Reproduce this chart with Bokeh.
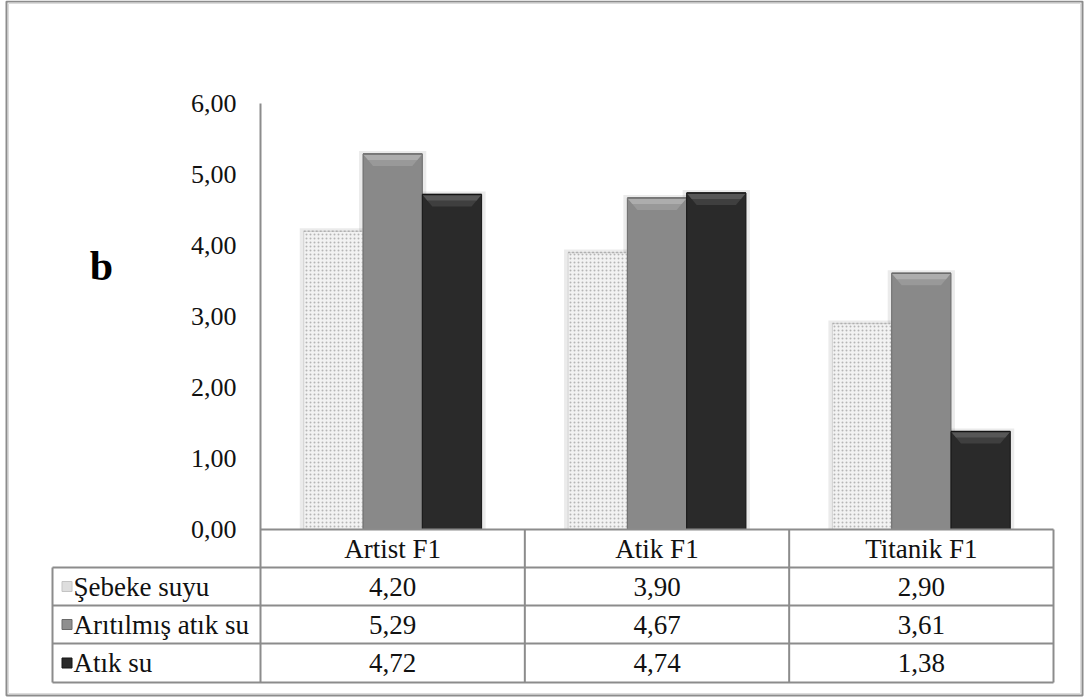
from bokeh.plotting import figure
from bokeh.models import LinearAxis, FixedTicker
from bokeh.core.properties import value
from bokeh.embed import file_html
from bokeh.resources import INLINE

# ---------------- data ----------------
categories = ["Artist F1", "Atik F1", "Titanik F1"]
series_names = ["Şebeke suyu", "Arıtılmış atık su", "Atık su"]
sebeke_suyu = [4.20, 3.90, 2.90]
aritilmis_atik_su = [5.29, 4.67, 3.61]
atik_su = [4.72, 4.74, 1.38]
y_ticks = [0, 1, 2, 3, 4, 5, 6]
panel_label = "b"

series = [sebeke_suyu, aritilmis_atik_su, atik_su]

# ---------------- layout (page pixels) ----------------
W, H = 1084, 697
PAGE = 0
AX_X = 260          # y axis position
PLOT_R = 1053       # right edge of plot / table
Y0_PX = 529         # value 0
YTOP_PX = 103       # value 6
TABLE_L = 52
ROWS = [529, 567, 605, 643, 682]
FRAME = (6, 1082, 1, 695)
FONT = "'Liberation Serif', 'Times New Roman', serif"
GRID = "#8c8c8c"

n = len(categories)
SX = (PLOT_R - AX_X) / n
SY = (Y0_PX - YTOP_PX) / float(y_ticks[-1])


def X(px):
    return -0.5 + (px - AX_X) / SX


def Y(py):
    return (Y0_PX - py) / SY


p = figure(width=W, height=H,
           x_range=(X(PAGE), X(PAGE + W)), y_range=(Y(PAGE + H), Y(PAGE)),
           output_backend="svg", toolbar_location=None,
           x_axis_location=None, y_axis_location=None, min_border=0)
for g in p.grid:
    g.visible = False
p.outline_line_color = None
p.background_fill_color = "white"
p.border_fill_color = "white"

# outer chart border
p.quad(left=[X(FRAME[0])], right=[X(FRAME[1])], top=[Y(FRAME[2])], bottom=[Y(FRAME[3])],
       fill_color=None, line_color=GRID, line_width=2)
p.quad(left=[X(FRAME[0] + 2)], right=[X(FRAME[1] - 2)], top=[Y(FRAME[2] + 2)], bottom=[Y(FRAME[3] - 2)],
       fill_color=None, line_color="#dcdcdc", line_width=1)

# ---------------- bars ----------------
bw = 59.3 / SX
offsets = [-bw, 0.0, bw]
cx = list(range(n))

# soft shadows
for k, vals in enumerate(series):
    xs = [i + offsets[k] for i in cx]
    p.vbar(x=xs, top=[v + 3 / SY for v in vals], bottom=0, width=bw + 8 / SX,
           fill_color="black", fill_alpha=0.08, line_color=None)

styles = [
    dict(fill_color="#f2f2f2", hatch_pattern="dot", hatch_color="#b5b5b5",
         hatch_scale=4, hatch_weight=1, line_color="#d2d2d2"),
    dict(fill_color="#898989", line_color="#6a6a6a"),
    dict(fill_color="#2a2a2a", line_color="#141414"),
]
bevel = [None, ("#999999", "#adadad"), ("#3f3f3f", "#575757")]

for k, vals in enumerate(series):
    xs = [i + offsets[k] for i in cx]
    p.vbar(x=xs, top=vals, bottom=0, width=bw, line_width=1, **styles[k])
    if bevel[k] is not None:
        for layer, (hp, col) in enumerate([(12, bevel[k][0]), (6, bevel[k][1])]):
            d = 10 / SX
            h = hp / SY
            pxs, pys = [], []
            for x, v in zip(xs, vals):
                x0, x1 = x - bw / 2, x + bw / 2
                dd = d * hp / 12
                pxs.append([x0, x1, x1 - dd, x0 + dd])
                pys.append([v, v, v - h, v - h])
            p.patches(pxs, pys, fill_color=col, line_color=None)
        p.segment(x0=[x - bw / 2 for x in xs], x1=[x + bw / 2 for x in xs],
                  y0=vals, y1=vals, line_color=styles[k]["line_color"], line_width=1.5)
    else:
        p.segment(x0=[x - bw / 2 for x in xs], x1=[x + bw / 2 for x in xs],
                  y0=vals, y1=vals, line_color="#b0b0b0", line_width=1.5, line_dash="2 2")


# ---------------- axes ----------------
def style_axis(ax, size):
    ax.axis_line_color = GRID
    ax.axis_line_width = 2
    ax.major_tick_line_color = None
    ax.minor_tick_line_color = None
    ax.major_tick_out = 0
    ax.major_tick_in = 0
    ax.major_label_text_font = FONT
    ax.major_label_text_font_size = size
    ax.major_label_text_color = "#111111"


yaxis = LinearAxis(fixed_location=X(AX_X), ticker=FixedTicker(ticks=y_ticks),
                   bounds=(Y(ROWS[-1]), y_ticks[-1]))
yaxis.major_label_overrides = {t: f"{t:.2f}".replace(".", ",") for t in y_ticks}
style_axis(yaxis, "26px")
yaxis.major_label_standoff = 24
p.add_layout(yaxis, "left")

xaxis = LinearAxis(fixed_location=0, ticker=FixedTicker(ticks=cx), bounds=(-0.5, n - 0.5))
xaxis.major_label_overrides = {i: c for i, c in enumerate(categories)}
style_axis(xaxis, "27px")
xaxis.major_label_standoff = 4
p.add_layout(xaxis, "below")

# ---------------- data table ----------------
row_y = [Y((ROWS[r] + ROWS[r + 1]) / 2) for r in range(1, len(ROWS) - 1)]

hx0, hx1, hy = [], [], []
for ry in ROWS[1:]:
    hx0.append(X(TABLE_L)); hx1.append(n - 0.5); hy.append(Y(ry))
p.segment(x0=hx0, x1=hx1, y0=hy, y1=hy, line_color=GRID, line_width=2)

vx = [X(TABLE_L)] + [i + 0.5 for i in range(n)]
vy0 = [Y(ROWS[1])] + [0] * n
vy1 = [Y(ROWS[-1])] * (n + 1)
p.segment(x0=vx, x1=vx, y0=vy0, y1=vy1, line_color=GRID, line_width=2)

tx, ty, tt = [], [], []
for k, vals in enumerate(series):
    for i, v in enumerate(vals):
        tx.append(i); ty.append(row_y[k]); tt.append(f"{v:.2f}".replace(".", ","))
p.text(x=tx, y=ty, text=tt, text_font=value(FONT), text_font_size="27px",
       text_align="center", text_baseline="middle", text_color="#111111")

p.scatter(x=[X(66.5)] * 3, y=row_y, marker="square", size=10,
          fill_color=["#dedede", "#8f8f8f", "#2a2a2a"],
          line_color=["#c4c4c4", "#6a6a6a", "#141414"])
p.text(x=[X(73)] * 3, y=row_y, text=series_names, text_font=value(FONT),
       text_font_size="27px", text_align="left", text_baseline="middle",
       text_color="#111111")

p.text(x=[X(101)], y=[Y(265)], text=[panel_label], text_font=value(FONT),
       text_font_size="42px", text_font_style="bold", text_align="center",
       text_baseline="alphabetic", text_color="#000000")

open("out.html", "w").write(file_html(p, INLINE))
